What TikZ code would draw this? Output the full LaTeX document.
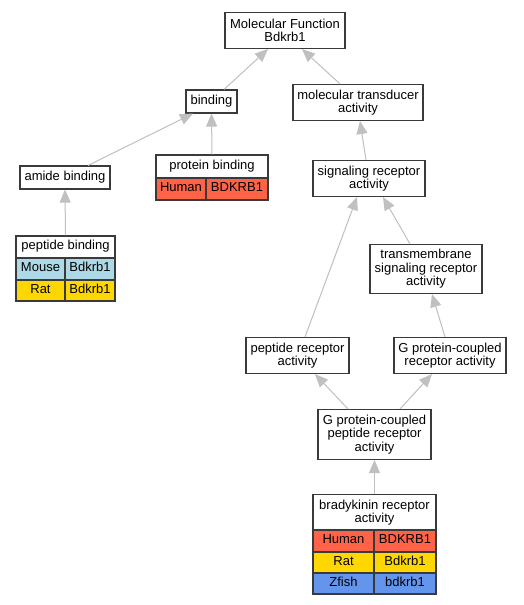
\documentclass[tikz,border=0pt]{standalone}
\usepackage{fontspec}
\setmainfont{Liberation Sans}
\usetikzlibrary{arrows.meta}
\definecolor{human}{HTML}{FF6347}
\definecolor{mouse}{HTML}{ADD8E6}
\definecolor{rat}{HTML}{FFD700}
\definecolor{zfish}{HTML}{6495ED}
\definecolor{edgegray}{HTML}{C0C0C0}
\definecolor{border}{HTML}{3A3A3A}
\tikzset{
  box/.style={draw=border, line width=1.1pt, fill=white, rectangle, inner sep=0pt, align=center},
  single/.style={draw=border, line width=1.1pt, fill=white, rectangle, inner sep=0pt, text height=9.3pt, text depth=3.4pt},
  cell/.style={draw=border, line width=1.1pt, rectangle, inner sep=0pt, text height=9.3pt, text depth=3.4pt},
  link/.style={draw=edgegray, line width=1pt, -{Triangle[length=13pt,width=11pt]}}
}
\begin{document}
\begin{tikzpicture}[x=1pt,y=-1pt, font=\fontsize{13}{13.4}\selectfont]
\useasboundingbox[fill=white] (0,0) rectangle (523,605);
% plain boxes
\node[box, minimum width=120pt, minimum height=36pt] (mf) at (285,30.5) {Molecular Function\\Bdkrb1};
\node[single, minimum width=51pt, minimum height=23pt] (binding) at (211.5,101.5) {binding};
\node[box, minimum width=130pt, minimum height=36pt] (mt) at (358,102.5) {molecular transducer\\activity};
\node[single, minimum width=90pt, minimum height=23pt] (amide) at (65,177.5) {amide binding};
\node[box, minimum width=112pt, minimum height=36pt] (sig) at (369,178.5) {signaling receptor\\activity};
\node[box, minimum width=112pt, minimum height=49pt] (tm) at (426,269) {transmembrane\\signaling receptor\\activity};
\node[box, minimum width=103pt, minimum height=36pt] (prec) at (297.5,355.5) {peptide receptor\\activity};
\node[box, minimum width=112pt, minimum height=36pt] (gpcr) at (450,355.5) {G protein-coupled\\receptor activity};
\node[box, minimum width=113pt, minimum height=50pt] (gpcpr) at (374.5,434.5) {G protein-coupled\\peptide receptor\\activity};
% protein binding table
\node[single, minimum width=112pt, minimum height=23pt] (pb) at (212,166.5) {protein binding};
\node[cell, fill=human, minimum width=50pt, minimum height=22pt] (pbh1) at (181,189) {Human};
\node[cell, fill=human, minimum width=62pt, minimum height=22pt] (pbh2) at (237,189) {BDKRB1};
% peptide binding table
\node[single, minimum width=99pt, minimum height=22pt] (pepb) at (65.5,247) {peptide binding};
\node[cell, fill=mouse, minimum width=49pt, minimum height=22pt] (pepm1) at (40.5,269) {Mouse};
\node[cell, fill=mouse, minimum width=50pt, minimum height=22pt] (pepm2) at (90,269) {Bdkrb1};
\node[cell, fill=rat, minimum width=49pt, minimum height=21pt] (pepr1) at (40.5,290.5) {Rat};
\node[cell, fill=rat, minimum width=50pt, minimum height=21pt] (pepr2) at (90,290.5) {Bdkrb1};
% bradykinin table
\node[box, minimum width=123pt, minimum height=36pt] (bk) at (374.5,512.5) {bradykinin receptor\\activity};
\node[cell, fill=human, minimum width=61pt, minimum height=22pt] (bkh1) at (343.5,541) {Human};
\node[cell, fill=human, minimum width=62pt, minimum height=22pt] (bkh2) at (405,541) {BDKRB1};
\node[cell, fill=rat, minimum width=61pt, minimum height=21pt] (bkr1) at (343.5,562.5) {Rat};
\node[cell, fill=rat, minimum width=62pt, minimum height=21pt] (bkr2) at (405,562.5) {Bdkrb1};
\node[cell, fill=zfish, minimum width=61pt, minimum height=21pt] (bkz1) at (343.5,583.5) {Zfish};
\node[cell, fill=zfish, minimum width=62pt, minimum height=21pt] (bkz2) at (405,583.5) {bdkrb1};
% edges
\draw[link] ([xshift=12.5pt]binding.north) -- ([xshift=-17pt]mf.south);
\draw[link] ([xshift=-18pt]mt.north) -- ([xshift=17pt]mf.south);
\draw[link] ([xshift=23pt]amide.north) -- ([xshift=-18.5pt]binding.south);
\draw[link] (pb.north) -- (binding.south);
\draw[link] ([xshift=-3pt]sig.north) -- ([xshift=2pt]mt.south);
\draw[link] (pepb.north) -- (amide.south);
\draw[link] ([xshift=7.5pt]prec.north) -- ([xshift=-12pt]sig.south);
\draw[link] ([xshift=-16pt]tm.north) -- ([xshift=14pt]sig.south);
\draw[link] ([xshift=-5pt]gpcr.north) -- ([xshift=6pt]tm.south);
\draw[link] ([xshift=-26.5pt]gpcpr.north) -- ([xshift=17.5pt]prec.south);
\draw[link] ([xshift=25.5pt]gpcpr.north) -- ([xshift=-18pt]gpcr.south);
\draw[link] (bk.north) -- (gpcpr.south);
\end{tikzpicture}
\end{document}
